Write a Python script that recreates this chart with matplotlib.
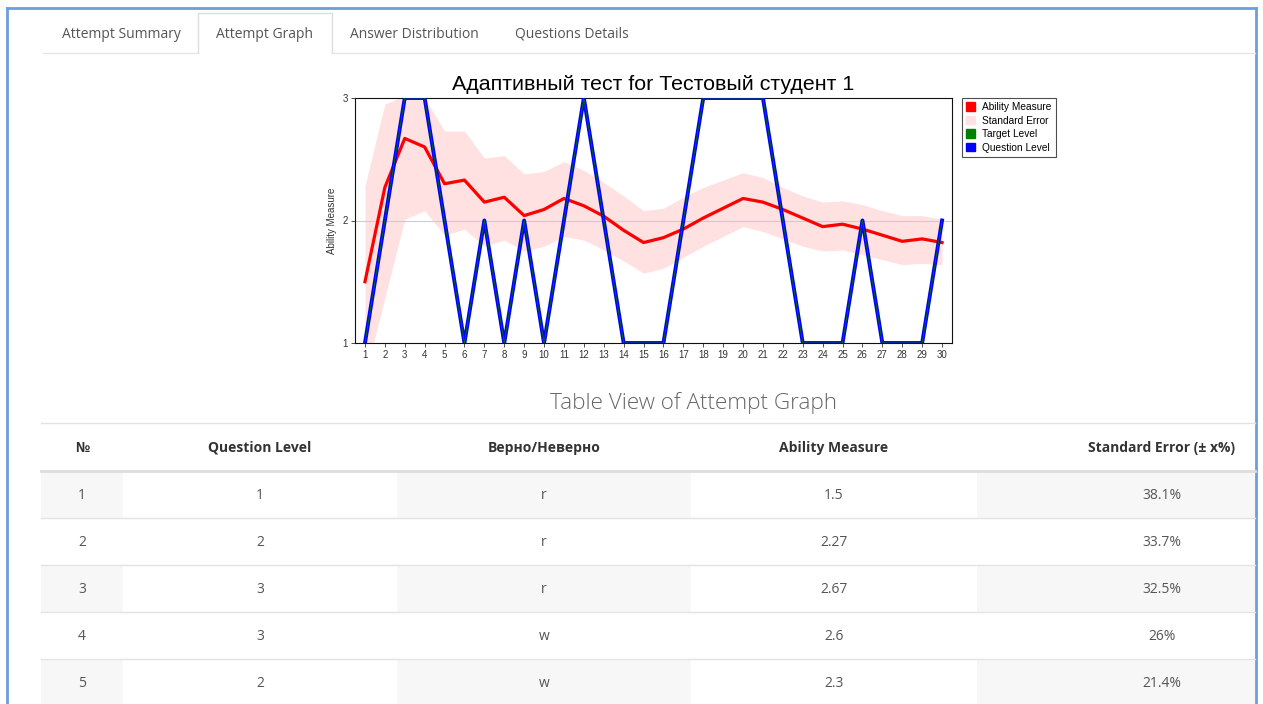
import numpy as np
import matplotlib
matplotlib.use("Agg")
import matplotlib.pyplot as plt
from matplotlib.patches import Patch, Rectangle

# --- data ---
questions = list(range(1, 31))
question_level = [1, 2, 3, 3, 2, 1, 2, 1, 2, 1, 2, 3, 2, 1, 1,
                  1, 2, 3, 3, 3, 3, 2, 1, 1, 1, 2, 1, 1, 1, 2]
target_level = question_level
ability = [1.5, 2.27, 2.67, 2.6, 2.3, 2.33, 2.15, 2.19, 2.04, 2.09,
           2.18, 2.12, 2.035, 1.92, 1.82, 1.86, 1.93, 2.02, 2.10, 2.18,
           2.15, 2.09, 2.02, 1.95, 1.97, 1.93, 1.88, 1.83, 1.85, 1.82]
se_upper = [2.28, 2.95, 3.02, 3.0, 2.73, 2.73, 2.51, 2.53, 2.38, 2.40,
            2.48, 2.41, 2.31, 2.20, 2.08, 2.10, 2.19, 2.27, 2.33, 2.39,
            2.35, 2.27, 2.20, 2.15, 2.16, 2.13, 2.08, 2.04, 2.04, 2.01]
se_lower = [0.72, 1.37, 2.01, 2.08, 1.88, 1.93, 1.79, 1.84, 1.75, 1.79,
            1.87, 1.84, 1.76, 1.67, 1.57, 1.61, 1.70, 1.79, 1.87, 1.95,
            1.91, 1.85, 1.79, 1.75, 1.76, 1.72, 1.68, 1.64, 1.65, 1.64]
correct = ["r", "r", "r", "w", "w"]
std_error_pct = [38.1, 33.7, 32.5, 26, 21.4]

tabs = ["Attempt Summary", "Attempt Graph", "Answer Distribution", "Questions Details"]
headers = ["№", "Question Level", "Верно/Неверно", "Ability Measure", "Standard Error (± x%)"]

W, H = 1263, 704
fig = plt.figure(figsize=(W / 100, H / 100), dpi=100)
page_font = ["Open Sans", "DejaVu Sans"]


def box(x0, y0, x1, y1):
    return [x0 / W, 1 - y1 / H, (x1 - x0) / W, (y1 - y0) / H]


# page background (pixel coords)
bg = fig.add_axes([0, 0, 1, 1])
bg.set_xlim(0, W)
bg.set_ylim(H, 0)
bg.axis("off")

frame_c = "#6b9fdb"
bg.plot([7, 7], [8, H], color=frame_c, lw=2)
bg.plot([7, 1256], [8, 8], color=frame_c, lw=2)
bg.plot([1256, 1256], [8, H], color=frame_c, lw=2)

# tabs
bg.plot([43, 198], [53, 53], color="#e6e6e6", lw=1)
bg.plot([332, 1255], [53, 53], color="#e6e6e6", lw=1)
bg.plot([198, 198, 332, 332], [53, 13, 13, 53], color="#dddddd", lw=1)
tab_x = [121, 265, 414, 572]
for t, tx in zip(tabs, tab_x):
    bg.text(tx, 34, t, ha="center", va="center", fontsize=10, color="#555555",
            family=page_font)

# table
bg.text(694, 403, "Table View of Attempt Graph", ha="center", va="center",
        fontsize=16.2, color="#666666", family=page_font, weight="light")
bg.plot([41, 1255], [423, 423], color="#e3e3e3", lw=1)
bg.plot([41, 1255], [471, 471], color="#dddddd", lw=2)
col_x = [82, 260, 544, 834, 1162]
col_edges = [41, 123, 397, 691, 977, 1255]
row_top = [471, 518, 565, 612, 659]
row_h = 47
for hx, h in zip(col_x, headers):
    bg.text(hx, 448, h, ha="center", va="center", fontsize=10, weight="bold",
            color="#333333", family=page_font)

for i in range(5):
    y0 = row_top[i]
    if i % 2 == 0:
        for c in (0, 2, 4):
            bg.add_patch(Rectangle((col_edges[c], y0 + 1), col_edges[c + 1] - col_edges[c],
                                   row_h - 1, facecolor="#f7f7f7", edgecolor="none"))
    if i > 0:
        bg.plot([41, 1255], [y0, y0], color="#e3e3e3", lw=1)
    cells = [str(questions[i]), str(question_level[i]), correct[i],
             f"{ability[i]:g}", f"{std_error_pct[i]:g}%"]
    for cx, val in zip(col_x, cells):
        bg.text(cx, y0 + row_h / 2 + 1, val, ha="center", va="center", fontsize=10,
                color="#555555", family=page_font)

# chart
ax = fig.add_axes(box(355, 98, 952, 343))
chart_font = ["Liberation Sans", "DejaVu Sans"]
ax.fill_between(questions, se_lower, se_upper, color="#ffe1e1", lw=0, zorder=1)
ax.axhline(2, color="#cccccc", lw=0.8, zorder=1.5)
ax.plot(questions, ability, color="#ff0000", lw=2.3, zorder=2)
ax.plot(questions, question_level, color="#0000ff", lw=2.8, zorder=3)
ax.plot(questions, target_level, color="#007000", lw=0.6, zorder=4)
ax.set_xlim(0.5, 30.5)
ax.set_ylim(1, 3)
ax.set_xticks(questions)
ax.set_yticks([1, 2, 3])
ax.tick_params(labelsize=7, length=3, width=0.6, colors="#333333", pad=2)
for lbl in ax.get_xticklabels() + ax.get_yticklabels():
    lbl.set_family(chart_font)
for s in ax.spines.values():
    s.set_linewidth(0.8)
    s.set_color("#111111")
ax.set_ylabel("Ability Measure", fontsize=7, family=chart_font, color="#333333",
              labelpad=4)
ax.set_title("Адаптивный тест for Тестовый студент 1", fontsize=15.4,
             family=chart_font, pad=6)

handles = [Patch(color="#ff0000", label="Ability Measure"),
           Patch(color="#ffe1e1", label="Standard Error"),
           Patch(color="#008000", label="Target Level"),
           Patch(color="#0000ff", label="Question Level")]
leg = ax.legend(handles=handles, loc="upper left", bbox_to_anchor=(962 / W, 1 - 98 / H),
                bbox_transform=fig.transFigure, frameon=True,
                fancybox=False, borderaxespad=0, handlelength=0.9, handleheight=0.9,
                labelspacing=0.35, borderpad=0.4, handletextpad=0.7,
                prop={"family": chart_font, "size": 7.3})
leg.get_frame().set_edgecolor("#222222")
leg.get_frame().set_linewidth(0.8)

fig.savefig("out.png", dpi=100)
